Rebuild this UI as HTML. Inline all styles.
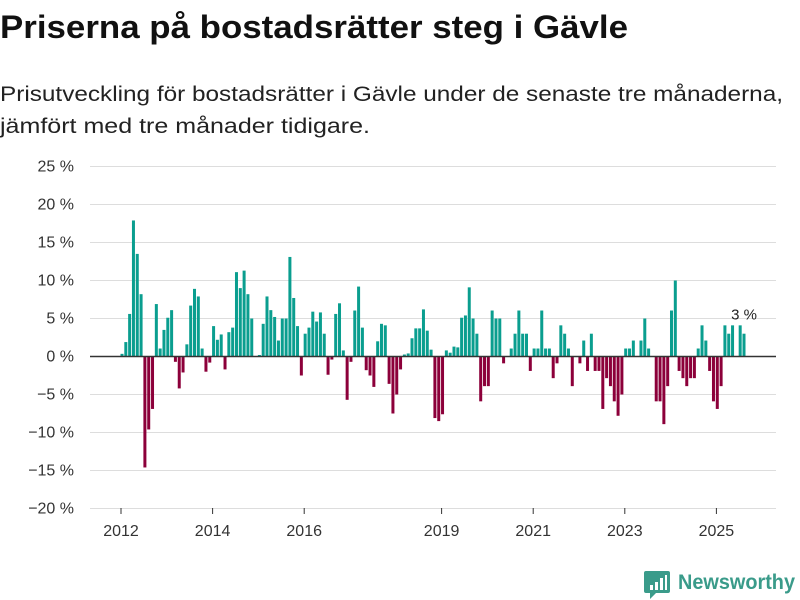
<!DOCTYPE html>
<html><head><meta charset="utf-8"><style>
body{margin:0;background:#fff;width:800px;height:600px;overflow:hidden;font-family:"Liberation Sans",sans-serif;}
svg{position:absolute;left:0;top:0}
</style></head><body>
<svg id="chart" width="800" height="600">
<text x="0" y="38" font-size="32" font-weight="bold" fill="#111" textLength="628" lengthAdjust="spacingAndGlyphs">Priserna på bostadsrätter steg i Gävle</text>
<text x="0" y="101" font-size="21" fill="#222" textLength="783" lengthAdjust="spacingAndGlyphs">Prisutveckling för bostadsrätter i Gävle under de senaste tre månaderna,</text>
<text x="0" y="133" font-size="21" fill="#222" textLength="370" lengthAdjust="spacingAndGlyphs">jämfört med tre månader tidigare.</text>
<g id="grid"></g><g id="bars"></g><g id="axes"></g>
<g>
<path d="M646 571 h22 a2 2 0 0 1 2 2 v18 a2 2 0 0 1 -2 2 h-12 l-6 6 v-6 h-4 a2 2 0 0 1 -2 -2 v-18 a2 2 0 0 1 2 -2z" fill="#3a9b8a"/>
<rect x="650" y="585" width="3" height="5" fill="#fff"/><rect x="655" y="582" width="3" height="8" fill="#fff"/><rect x="660" y="578" width="3" height="12" fill="#fff"/><rect x="665" y="575" width="2" height="15" fill="#fff"/>
<text x="678" y="589" font-size="21" font-weight="bold" fill="#3a9b8a" textLength="117" lengthAdjust="spacingAndGlyphs">Newsworthy</text>
</g>
</svg>
<script>
const values=[0.35,1.9,5.6,17.9,13.5,8.2,-14.6,-9.6,-6.9,6.9,1.05,3.5,5.1,6.1,-0.7,-4.2,-2.1,1.6,6.7,8.9,7.9,1.05,-2.0,-0.8,4.0,2.2,2.9,-1.7,3.2,3.8,11.1,9.0,11.3,8.2,5.0,0,0.2,4.3,7.9,6.1,5.2,2.1,5.0,5.0,13.1,7.7,4.0,-2.5,3.0,3.8,5.9,4.6,5.8,3.0,-2.4,-0.4,5.6,7.0,
0.8,-5.7,-0.7,6.05,9.2,3.8,-1.8,-2.5,-4.0,2.0,4.3,4.1,-3.6,-7.5,-5.0,-1.7,0.26,0.4,2.4,3.7,3.7,6.2,3.4,0.9,-8.1,-8.5,-7.6,0.8,0.5,1.3,1.2,5.1,5.4,9.1,5.0,3.0,-5.9,-3.9,-3.9,6.05,5.0,5.0,-0.9,0,1.05,3.0,6.05,3.0,3.0,-1.9,1.05,1.05,6.05,1.05,1.05,-2.85,-0.9,
4.1,3.0,1.05,-3.9,0,-0.9,2.1,-1.9,3.0,-1.9,-1.9,-6.9,-2.85,-3.9,-5.9,-7.8,-5.0,1.05,1.05,2.1,0,2.1,5.0,1.05,0,-5.9,-5.9,-8.9,-3.9,6.05,10.0,-1.9,-2.85,-3.9,-2.85,-2.85,1.05,4.1,2.1,-1.9,-5.9,-6.9,-3.9,4.1,3.0,4.1,0,4.1,3.0];
const yTicks=[25,20,15,10,5,0,-5,-10,-15,-20];
const xTickYears=[2012,2014,2016,2019,2021,2023,2025];
const lastLabel="3 %";
const NS="http://www.w3.org/2000/svg";
const y=v=>356.5-v*7.6;
const xYear=yr=>121+(yr-2012)*45.8;
const x0=122,x1=744;
const xBar=i=>x0+i*(x1-x0)/(values.length-1);
const grid=document.getElementById('grid'),bars=document.getElementById('bars'),axes=document.getElementById('axes');
function mk(t,a,p){const e=document.createElementNS(NS,t);for(const k in a)e.setAttribute(k,a[k]);p.appendChild(e);return e;}
yTicks.forEach(v=>{
 const l=mk('line',{x1:90,x2:776,y1:y(v),y2:y(v),stroke:'#ddd','stroke-width':1},grid);
 
 
 const t=mk('text',{x:74,y:y(v)+5,'font-size':16,fill:'#333','text-anchor':'end'},axes);
 t.textContent=(v<0?'−'+(-v):v)+' %';
 
 
});
values.forEach((v,i)=>{
 const r=mk('rect',{x:xBar(i)-1.5,width:3,y:Math.min(y(v),y(0)),height:Math.abs(y(v)-y(0)),fill:v>=0?'#0a9e8f':'#8c003a'},bars);
 
 
});
const z=mk('line',{x1:90,x2:776,y1:y(0),y2:y(0),stroke:'#333','stroke-width':1.5},axes);


xTickYears.forEach(yr=>{
 const tk=mk('line',{x1:xYear(yr),x2:xYear(yr),y1:508,y2:514,stroke:'#333'},axes);
 
 
 const t=mk('text',{x:xYear(yr),y:536,'font-size':16,fill:'#333','text-anchor':'middle'},axes);
 t.textContent=yr;
 
 
});
const ll=mk('text',{x:xBar(values.length-1),y:y(values[values.length-1])-14,'font-size':15,fill:'#222','text-anchor':'middle'},axes);
ll.textContent=lastLabel;


</script>
</body></html>
